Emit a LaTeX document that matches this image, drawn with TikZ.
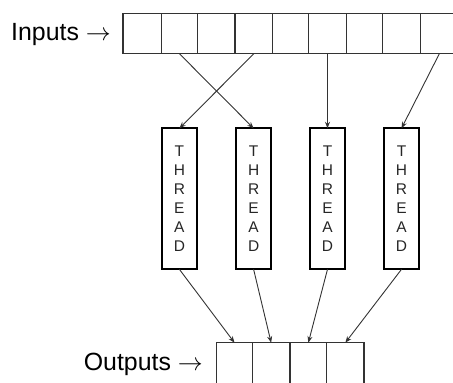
\documentclass[tikz,border=0pt]{standalone}
\usepackage{fontspec}
\setmainfont{Liberation Sans}
\usetikzlibrary{arrows.meta}

\tikzset{
  cell/.style={draw=black!80, line width=1.3pt, inner sep=0pt, outer sep=0pt},
  incell/.style={cell, minimum height=40.4pt},
  outcell/.style={cell, minimum height=57.3pt},
  threadbox/.style={draw=black, line width=2.2pt, inner sep=0pt, outer sep=0pt,
    minimum width=35pt, minimum height=141pt, align=center, text=black!85,
    font=\fontsize{15.5}{19.1}\selectfont},
  lbl/.style={inner sep=0pt, font=\fontsize{24.88}{29}\selectfont},
  link/.style={draw=black!80, line width=0.9pt, -{Stealth[length=6.5pt,width=5pt]}}
}

\begin{document}
\begin{tikzpicture}[x=1pt, y=-1pt]
  \clip (0,0) rectangle (453,383);

  % input array (last cell runs past the edge)
  \node[incell, minimum width=38.3pt] (in1) at (142.15,33.5) {};
  \node[incell, minimum width=36.2pt] (in2) at (179.4,33.5) {};
  \node[incell, minimum width=37.5pt] (in3) at (216.25,33.5) {};
  \node[incell, minimum width=37.7pt] (in4) at (253.85,33.5) {};
  \node[incell, minimum width=35.6pt] (in5) at (290.5,33.5) {};
  \node[incell, minimum width=38.4pt] (in6) at (327.5,33.5) {};
  \node[incell, minimum width=36.0pt] (in7) at (364.7,33.5) {};
  \node[incell, minimum width=38.0pt] (in8) at (401.7,33.5) {};
  \node[incell, minimum width=37.3pt] (in9) at (439.35,33.5) {};

  \node[lbl, anchor=base east] (inlbl) at (111,40) {Inputs $\rightarrow$};

  % threads
  \node[threadbox] (th1) at (179.4,198.8) {T\\H\\R\\E\\A\\D};
  \node[threadbox] (th2) at (253.6,198.8) {T\\H\\R\\E\\A\\D};
  \node[threadbox] (th3) at (327.5,198.8) {T\\H\\R\\E\\A\\D};
  \node[threadbox] (th4) at (401.5,198.8) {T\\H\\R\\E\\A\\D};

  % output array (runs past the bottom edge)
  \node[outcell, minimum width=35.6pt] (out1) at (234.5,371.35) {};
  \node[outcell, minimum width=37.7pt] (out2) at (271.15,371.35) {};
  \node[outcell, minimum width=36.7pt] (out3) at (308.35,371.35) {};
  \node[outcell, minimum width=37.3pt] (out4) at (345.35,371.35) {};

  \node[lbl, anchor=base east] (outlbl) at (203,370) {Outputs $\rightarrow$};

  % reads
  \draw[link] (in2.south) -- (th2.north);
  \draw[link] (in4.south) -- (th1.north);
  \draw[link] (in6.south) -- (th3.north);
  \draw[link] (in9.south) -- (th4.north);

  % writes
  \draw[link] (th1.south) -- (out1.north);
  \draw[link] (th2.south) -- (out2.north);
  \draw[link] (th3.south) -- (out3.north);
  \draw[link] (th4.south) -- (out4.north);
\end{tikzpicture}
\end{document}
